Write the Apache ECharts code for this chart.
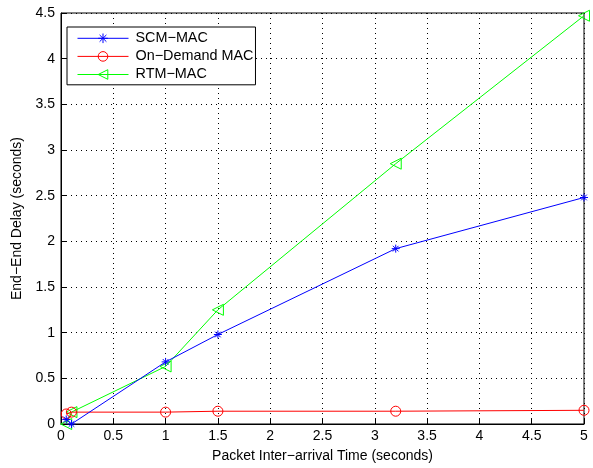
<!DOCTYPE html>
<html><head><meta charset="utf-8">
<script src="https://cdn.jsdelivr.net/npm/echarts@6/dist/echarts.min.js"></script>
<style>html,body{margin:0;padding:0;background:#fff}#c{width:593px;height:468px}</style>
</head><body><div id="c"></div>
<script>
const xTicks = [0, 0.5, 1, 1.5, 2, 2.5, 3, 3.5, 4, 4.5, 5];
const seriesNames = ['SCM\u2212MAC', 'On\u2212Demand MAC', 'RTM\u2212MAC'];
const xSCM = [0.05, 0.1, 1, 1.5, 3.2, 5];
const ySCM = [0.05, 0.0, 0.68, 0.98, 1.92, 2.48];
const xOnDemand = [0.05, 0.1, 1, 1.5, 3.2, 5];
const yOnDemand = [0.11, 0.13, 0.13, 0.14, 0.14, 0.15];
const xRTM = [0.05, 0.1, 1, 1.5, 3.2, 5];
const yRTM = [0.0, 0.13, 0.63, 1.25, 2.85, 4.47];

const pair = (xs, ys) => xs.map((x, i) => [x, ys[i]]);
const star = 'path://M0,-10L0,10M-10,0L10,0M-7.07,-7.07L7.07,7.07M-7.07,7.07L7.07,-7.07';
const font = 'Liberation Sans, Arial, sans-serif';

const chart = echarts.init(document.getElementById('c'));
chart.setOption({
  animation: false,
  backgroundColor: '#fff',
  grid: { left: 61, right: 9, top: 13, bottom: 43, show: true, borderColor: '#000', borderWidth: 1, backgroundColor: 'transparent' },
  legend: {
    left: 67, top: 27, orient: 'vertical',
    backgroundColor: '#fff', borderColor: '#000', borderWidth: 1,
    padding: [4, 2, 3, 10], itemGap: 3.5, itemWidth: 51, itemHeight: 12,
    lineStyle: { width: 1 },
    itemStyle: { borderWidth: 1 },
    textStyle: { fontFamily: font, fontSize: 14.4, color: '#000', padding: [0, 0, 0, 2] },
    data: seriesNames
  },
  xAxis: {
    type: 'value', min: 0, max: 5, interval: 0.5,
    name: 'Packet Inter\u2212arrival Time (seconds)', nameLocation: 'middle', nameGap: 25,
    nameTextStyle: { fontFamily: font, fontSize: 14, color: '#000' },
    axisLine: { onZero: false, lineStyle: { color: '#000' } },
    axisTick: { inside: true, length: 5, lineStyle: { color: '#000' } },
    axisLabel: { fontFamily: font, fontSize: 14, color: '#000', margin: 5, formatter: v => String(v) },
    splitLine: { show: true, lineStyle: { color: '#000', type: [1, 4], width: 1 } }
  },
  yAxis: {
    type: 'value', min: 0, max: 4.5, interval: 0.5,
    name: 'End\u2212End Delay (seconds)', nameLocation: 'middle', nameGap: 32,
    nameTextStyle: { fontFamily: font, fontSize: 14, color: '#000' },
    axisLine: { onZero: false, lineStyle: { color: '#000' } },
    axisTick: { inside: true, length: 5, lineStyle: { color: '#000' } },
    axisLabel: { fontFamily: font, fontSize: 14, color: '#000', margin: 6, formatter: v => String(v) },
    splitLine: { show: true, lineStyle: { color: '#000', type: [1, 4], width: 1 } }
  },
  series: [
    { name: seriesNames[0], type: 'line', data: pair(xSCM, ySCM), color: '#0000ff',
      lineStyle: { color: '#0000ff', width: 1 }, symbol: star, symbolSize: 8,
      itemStyle: { color: 'none', borderColor: '#0000ff', borderWidth: 1 }, z: 3 },
    { name: seriesNames[1], type: 'line', data: pair(xOnDemand, yOnDemand), color: '#ff0000',
      lineStyle: { color: '#ff0000', width: 1 }, symbol: 'circle', symbolSize: 10,
      itemStyle: { color: 'none', borderColor: '#ff0000', borderWidth: 1 }, z: 2 },
    { name: seriesNames[2], type: 'line', data: pair(xRTM, yRTM), color: '#00ff00',
      lineStyle: { color: '#00ff00', width: 1 }, symbol: 'triangle', symbolSize: 11, symbolRotate: 90,
      itemStyle: { color: 'none', borderColor: '#00ff00', borderWidth: 1 }, z: 1 }
  ]
});
</script></body></html>
